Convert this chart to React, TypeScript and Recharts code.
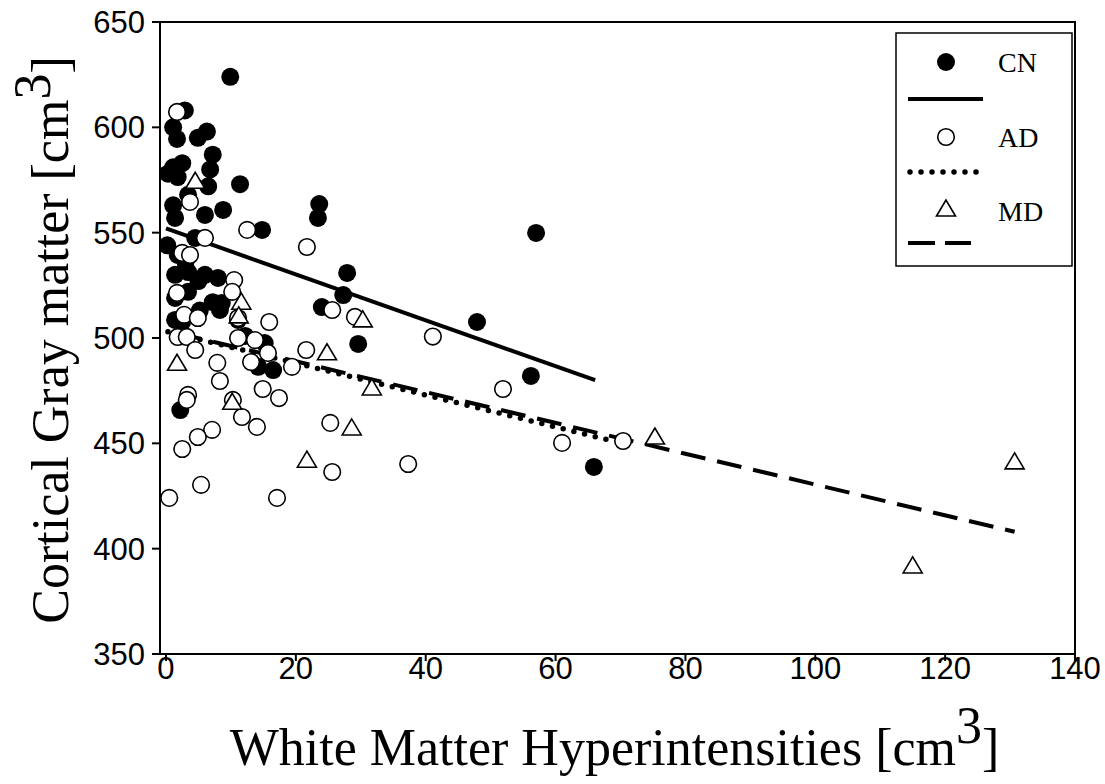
import { ScatterChart, Scatter, XAxis, YAxis, ReferenceLine, ReferenceArea, Legend } from 'recharts';

// points: [WMH cm3, cortical gray matter cm3]
const cnPoints = [
  [9.9, 624], [2.9, 608], [1.1, 600], [1.7, 594.5], [4.9, 595], [6.3, 598], [7.2, 587],
  [6.8, 580], [1.1, 581], [2.5, 583], [0.3, 578], [1.8, 576.4], [11.4, 573], [6.5, 572],
  [1.1, 563], [3.4, 568], [1.4, 557], [6.0, 558.4], [8.8, 560.8], [0.2, 544], [4.5, 547.5],
  [1.8, 539.4], [1.4, 530], [3.4, 531.3], [6.0, 530], [8.0, 528.5], [1.4, 519], [3.4, 521.9],
  [7.2, 517], [8.6, 516.6], [2.2, 465.8], [1.4, 508.6], [11.1, 508.6], [15.2, 497.6],
  [16.5, 484.8], [14.2, 486.3], [23.6, 563.6], [23.4, 557], [14.8, 551.3], [57.0, 549.9],
  [27.9, 530.9], [27.3, 520.4], [24.0, 514.7], [29.6, 497.2], [47.9, 507.6], [56.2, 482],
  [65.9, 438.8], [8.3, 513.3], [12.2, 501], [5.2, 513], [2.5, 507.6], [3.0, 536], [5.0, 527],
];

const adPoints = [
  [1.7, 607.3], [3.7, 564.6], [12.5, 551.3], [6.0, 547.5], [2.5, 540.4], [3.7, 539.4],
  [10.5, 527.5], [1.7, 521.4], [10.2, 521.9], [2.8, 511], [4.9, 509.5], [1.8, 500.5],
  [3.2, 500.5], [4.5, 494.3], [11.1, 500], [7.9, 488.2], [8.3, 479.6], [3.4, 473],
  [3.2, 470.6], [10.3, 470.6], [11.7, 462.5], [15.9, 507.6], [13.7, 499], [15.7, 492.9],
  [13.1, 488.6], [19.4, 486.3], [21.6, 494.3], [14.9, 475.8], [17.4, 471.5], [14.0, 457.8],
  [25.3, 459.7], [25.6, 436.4], [7.1, 456.4], [2.5, 447.3], [4.9, 453], [0.5, 424.1],
  [5.4, 430.3], [17.1, 424.1], [21.7, 543.2], [25.6, 513.3], [29.1, 510], [41.1, 500.7],
  [51.9, 475.8], [37.3, 440.2], [61.0, 450.2], [70.4, 451.1], [11.1, 509.5],
];

const mdPoints = [
  [4.5, 574.4], [11.6, 517], [11.2, 510.5], [1.7, 488], [10.2, 469.5], [21.7, 442],
  [24.8, 493], [28.6, 457.3], [30.3, 508.6], [31.7, 476.3], [75.3, 453], [115.0, 391.8],
  [130.7, 441.2],
];

// regression line end points
const cnFit = [[0, 552], [66.1, 480]];
const adFit = [[0.3, 503], [68, 451.7]];
const mdFit = [[1.7, 502.3], [130.7, 408]];

const xTicks = [0, 20, 40, 60, 80, 100, 120, 140];
const yTicks = [350, 400, 450, 500, 550, 600, 650];
const xDomain = [-0.924, 140];
const yDomain = [350, 650];

const toObj = (pts: number[][]) => pts.map(([x, y]) => ({ x, y }));

const FilledDot = (p: any) => <circle cx={p.cx} cy={p.cy} r={9} fill="#000" />;
const OpenDot = (p: any) => (
  <circle cx={p.cx} cy={p.cy} r={8.3} fill="#fff" stroke="#000" strokeWidth={1.6} />
);
const Tri = (p: any) => (
  <path
    d={`M${p.cx},${p.cy - 9}L${p.cx - 9.5},${p.cy + 7}L${p.cx + 9.5},${p.cy + 7}Z`}
    fill="#fff"
    stroke="#000"
    strokeWidth={1.6}
  />
);

const serif = '"Liberation Serif", "Times New Roman", serif';
const sans = '"Liberation Sans", Arial, sans-serif';

const XTitle = (props: any) => {
  const vb = props.viewBox;
  return (
    <text x={vb.x + vb.width / 2 - 3} y={vb.y + 111} textAnchor="middle" fontFamily={serif} fontSize={52} fill="#000">
      White Matter Hyperintensities [cm<tspan dy={-22}>3</tspan><tspan dy={22}>]</tspan>
    </text>
  );
};

const YTitle = (props: any) => {
  const vb = props.viewBox;
  const cy = vb.y + vb.height / 2 + 2;
  return (
    <text
      x={68}
      y={cy}
      transform={`rotate(-90, 68, ${cy})`}
      textAnchor="middle"
      fontFamily={serif}
      fontSize={52}
      fill="#000"
    >
      Cortical Gray matter [cm<tspan dy={-18}>3</tspan><tspan dy={18}>]</tspan>
    </text>
  );
};

const LegendBox = () => (
  <svg width={178} height={235} style={{ display: 'block' }}>
    <rect x={1} y={1} width={176} height={233} fill="#fff" stroke="#000" strokeWidth={1.5} />
    <circle cx={51} cy={30} r={9} fill="#000" />
    <text x={103} y={40} fontFamily={serif} fontSize={28}>CN</text>
    <line x1={13} y1={67} x2={88} y2={67} stroke="#000" strokeWidth={4} />
    <circle cx={51} cy={105} r={8.3} fill="#fff" stroke="#000" strokeWidth={1.6} />
    <text x={103} y={115} fontFamily={serif} fontSize={28}>AD</text>
    <line x1={15} y1={140} x2={82} y2={140} stroke="#000" strokeWidth={5.5} strokeDasharray="0 11" strokeLinecap="round" />
    <path d="M51,168L41.5,184L60.5,184Z" fill="#fff" stroke="#000" strokeWidth={1.6} />
    <text x={103} y={189} fontFamily={serif} fontSize={28}>MD</text>
    <line x1={13} y1={211} x2={76} y2={211} stroke="#000" strokeWidth={4} strokeDasharray="27 10" />
  </svg>
);

export default function App() {
  return (
    <div style={{ width: 1105, height: 784, background: '#fff' }}>
      <style>{`body{margin:0}`}</style>
      <ScatterChart width={1105} height={784} margin={{ top: 22, right: 30, left: 0, bottom: 0 }}>
        <XAxis
          type="number"
          dataKey="x"
          domain={xDomain}
          ticks={xTicks}
          allowDataOverflow
          height={130}
          stroke="#000"
          strokeWidth={2}
          tickSize={7}
          tickMargin={-4}
          tick={{ fill: '#000', fontSize: 31, fontFamily: sans }}
          label={{ content: XTitle }}
        />
        <YAxis
          type="number"
          dataKey="y"
          domain={yDomain}
          ticks={yTicks}
          allowDataOverflow
          width={160}
          stroke="#000"
          strokeWidth={2}
          tickSize={8}
          tickMargin={7}
          tick={{ fill: '#000', fontSize: 31, fontFamily: sans }}
          label={{ content: YTitle }}
        />
        <ReferenceArea x1={xDomain[0]} x2={xDomain[1]} y1={yDomain[0]} y2={yDomain[1]} fill="none" stroke="#000" strokeWidth={2} />
        <Scatter name="CN" data={toObj(cnPoints)} shape={FilledDot} isAnimationActive={false} />
        <Scatter name="AD" data={toObj(adPoints)} shape={OpenDot} isAnimationActive={false} />
        <Scatter name="MD" data={toObj(mdPoints)} shape={Tri} isAnimationActive={false} />
        <ReferenceLine segment={toObj(cnFit)} stroke="#000" strokeWidth={4} />
        <ReferenceLine segment={toObj(adFit)} stroke="#000" strokeWidth={5.5} strokeDasharray="0 11" strokeLinecap="round" />
        <ReferenceLine segment={toObj(mdFit)} stroke="#000" strokeWidth={4} strokeDasharray="25 12" />
        <Legend
          layout="horizontal"
          verticalAlign="middle"
          align="center"
          content={LegendBox}
          wrapperStyle={{ position: 'absolute', left: 895, top: 32, width: 178, height: 235 }}
        />
      </ScatterChart>
    </div>
  );
}
